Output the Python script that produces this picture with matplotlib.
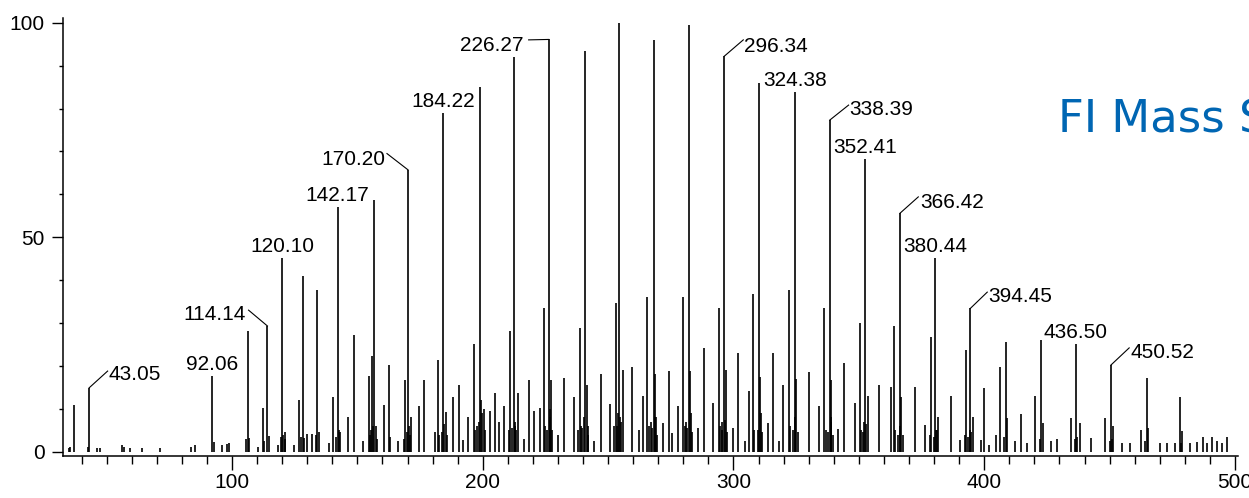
"""FI mass spectrum stick plot with annotated homologue peaks."""

import matplotlib

matplotlib.use("Agg")
import matplotlib.pyplot as plt
from matplotlib.ticker import MultipleLocator

# ---- data -------------------------------------------------------------
# annotated peaks: m/z and relative intensity (%)
label_mz = [43.05, 92.06, 114.14, 120.10, 142.17, 170.20, 184.22, 226.27,
            296.34, 324.38, 338.39, 352.41, 366.42, 380.44, 394.45, 436.50, 450.52]
label_int = [14.9, 17.6, 29.3, 45.1, 57.1, 65.7, 78.9, 96.1,
             92.2, 83.9, 77.3, 68.2, 55.6, 45.1, 33.4, 25.1, 20.2]

# other resolved peaks
peak_mz = [34.8, 35.5, 37.1, 42.6, 46.1, 47.5, 56.3, 56.8, 59.2, 64.1, 71.2, 83.7,
           85.4, 93.0, 96.0, 98.0, 99.0, 106.2, 106.7, 110.4, 112.2, 112.6, 114.9,
           118.3, 121.3, 124.6, 126.6, 128.2, 128.7, 129.9, 131.9, 134.0, 134.5,
           138.5, 140.1, 143.0, 146.1, 148.5, 152.3, 154.5, 155.8, 156.7, 157.3,
           160.5, 162.7, 163.2, 166.4, 168.8, 171.5, 174.4, 176.4, 180.8, 182.2,
           185.2, 188.1, 190.5, 192.2, 194.1, 196.4, 198.9, 199.5, 200.3, 202.7,
           204.7, 206.5, 208.6, 210.8, 212.4, 213.0, 213.9, 216.3, 218.4, 220.5,
           222.7, 224.3, 227.3, 230.2, 232.6, 236.2, 238.6, 240.9, 241.6, 244.5,
           247.1, 250.8, 253.0, 254.4, 255.0, 255.9, 259.6, 262.3, 264.1, 265.6,
           268.1, 268.8, 271.7, 274.1, 275.4, 277.8, 280.0, 282.1, 282.8, 285.9,
           288.3, 292.0, 294.3, 297.1, 300.0, 301.8, 304.5, 306.3, 307.7, 310.0,
           310.6, 313.7, 315.9, 318.1, 319.9, 322.1, 324.9, 330.3, 333.9, 336.2,
           339.0, 341.5, 343.9, 348.5, 350.5, 353.8, 358.2, 362.8, 364.1, 366.9,
           372.5, 376.2, 378.7, 381.4, 386.7, 390.4, 392.7, 395.7, 398.6, 400.1,
           402.0, 404.6, 406.1, 408.5, 409.2, 412.1, 414.6, 417.0, 420.3, 422.8,
           423.6, 426.6, 429.0, 434.6, 438.0, 442.4, 448.3, 451.2, 455.0, 458.0,
           462.6, 464.8, 465.5, 470.0, 473.0, 476.0, 478.1, 478.8, 482.0, 485.0,
           487.2, 489.0, 491.0, 493.0, 495.0, 497.0]
peak_int = [0.9, 1.0, 10.8, 1.0, 0.9, 0.9, 1.5, 1.0, 0.9, 0.9, 0.9, 1.2,
            1.5, 2.2, 1.5, 1.8, 2.0, 28.2, 3.2, 1.0, 10.3, 2.5, 3.6,
            1.5, 4.6, 1.5, 12.1, 41.0, 3.1, 4.2, 4.2, 37.7, 4.6,
            2.0, 12.8, 4.5, 8.2, 27.2, 2.5, 17.6, 22.3, 58.7, 6.0,
            10.8, 20.2, 3.5, 2.5, 16.7, 8.0, 10.6, 16.7, 4.5, 21.4,
            9.3, 12.8, 15.6, 2.8, 8.0, 25.1, 85.1, 12.0, 10.0, 9.4,
            13.6, 7.0, 10.6, 28.2, 91.9, 6.0, 13.6, 3.0, 16.7, 9.4,
            10.3, 33.4, 16.7, 4.0, 17.1, 12.8, 28.8, 93.5, 15.5, 2.5,
            18.0, 11.2, 34.6, 100.0, 7.0, 19.0, 19.7, 5.0, 12.9, 36.1,
            96.0, 18.0, 6.6, 18.8, 4.3, 10.7, 36.1, 99.4, 18.8, 5.5,
            24.1, 11.3, 33.4, 19.0, 5.5, 22.9, 2.5, 14.2, 36.8, 86.0,
            17.5, 6.6, 22.9, 2.5, 15.5, 37.8, 17.0, 18.5, 10.7, 33.4,
            16.6, 5.3, 20.7, 11.3, 29.9, 13.1, 15.5, 15.1, 29.3, 12.8,
            15.1, 6.2, 26.7, 8.0, 12.9, 2.7, 23.6, 8.0, 2.7, 14.9,
            1.5, 4.0, 19.8, 25.6, 7.8, 2.5, 8.9, 2.0, 12.9, 26.0,
            6.8, 2.5, 3.0, 7.8, 6.6, 3.2, 7.8, 6.0, 2.0, 2.0,
            5.0, 17.1, 5.5, 2.0, 2.0, 2.0, 12.8, 4.8, 2.0, 2.2,
            3.5, 2.0, 3.5, 2.5, 2.0, 3.5]

# unresolved shoulders that make the dark bases under the main peaks
shoulder_mz = [105.6, 119.6, 120.5, 121.0, 127.7, 133.6, 141.6, 142.6, 155.3, 156.2,
               169.6, 170.6, 171.0, 183.6, 184.6, 197.6, 198.4, 200.8, 211.7, 212.8,
               225.7, 226.7, 227.8, 239.7, 240.5, 242.0, 253.6, 254.8, 267.6, 268.6,
               269.5, 281.6, 283.5, 295.6, 296.8, 297.6, 309.6, 311.4, 323.8, 325.6,
               337.8, 338.8, 339.6, 351.8, 352.8, 365.8, 367.6, 379.9, 380.9, 393.7,
               394.8, 408.0, 422.3, 436.0, 436.9, 450.0, 450.9, 464.3, 478.4,
               154.9, 157.8, 168.4, 182.7, 185.8, 196.9, 199.9, 210.3, 213.4, 224.8,
               227.0, 238.0, 239.2, 241.9, 252.4, 254.0, 266.2, 267.2, 269.1, 280.6,
               281.2, 283.0, 294.8, 295.3, 308.2, 310.9, 322.6, 324.6, 336.8, 338.9,
               350.9, 352.0, 364.6, 366.5, 378.3, 381.0, 392.2, 394.2]
shoulder_int = [3.0, 3.5, 4.0, 3.0, 3.5, 4.0, 3.5, 5.0, 5.0, 6.0,
                4.5, 6.0, 4.0, 4.5, 6.5, 6.0, 7.0, 5.0, 5.5, 7.0,
                5.0, 8.0, 5.0, 5.5, 8.0, 4.0, 6.0, 8.0, 5.5, 8.0,
                4.0, 5.5, 4.5, 5.0, 7.5, 4.5, 5.0, 4.5, 5.0, 4.5,
                4.5, 7.0, 4.0, 4.5, 6.5, 4.0, 4.0, 3.5, 5.0, 3.5,
                4.5, 3.5, 3.0, 3.0, 3.5, 2.5, 3.0, 2.5, 2.0,
                4.0, 3.0, 3.0, 4.0, 4.0, 5.0, 9.0, 5.0, 5.0, 6.0,
                10.0, 5.0, 6.0, 6.0, 6.0, 9.0, 6.0, 7.0, 8.0, 6.0,
                7.0, 9.0, 6.0, 7.0, 5.0, 9.0, 6.0, 8.0, 5.0, 8.0,
                5.0, 7.0, 5.0, 6.0, 4.0, 5.0, 4.0, 5.0]

x_ticks_major = [100, 200, 300, 400, 500]
y_ticks_major = [0, 50, 100]

LABEL_FONT = "Liberation Sans"
LABEL_SIZE = 15

# text anchor (x, y in data units), alignment and leader end for labels with a leader
leader_layout = {
    43.05: (50.8, 16.7, "left", (50.4, 18.8)),
    114.14: (105.3, 30.7, "right", (106.6, 33.0)),
    170.20: (161.1, 66.8, "right", (161.8, 69.5)),
    226.27: (216.2, 93.5, "right", (218.3, 96.0)),
    296.34: (304.3, 93.2, "left", (303.9, 96.0)),
    338.39: (346.1, 78.5, "left", (345.9, 80.8)),
    366.42: (374.4, 56.7, "left", (373.7, 59.4)),
    394.45: (401.7, 35.0, "left", (401.2, 37.2)),
    450.52: (458.2, 21.8, "left", (457.8, 24.2)),
}

fig = plt.figure(figsize=(12.49, 4.98), dpi=100)
ax = fig.add_axes([63 / 1249, 1 - 456 / 498, 1175 / 1249, 438 / 498])

ax.vlines(shoulder_mz, 0, shoulder_int, color="black", linewidth=1.2)
ax.vlines(peak_mz, 0, peak_int, color="black", linewidth=1.2)
ax.vlines(label_mz, 0, label_int, color="black", linewidth=1.2)

for mz, inten in zip(label_mz, label_int):
    text = f"{mz:.2f}"
    if mz in leader_layout:
        tx, ty, ha, (lx, ly) = leader_layout[mz]
        ax.plot([mz, lx], [inten, ly], color="black", linewidth=0.8)
        ax.text(tx, ty, text, ha=ha, va="baseline", family=LABEL_FONT,
                fontsize=LABEL_SIZE, color="black")
    else:
        ax.text(mz, inten + 1.45, text, ha="center", va="baseline",
                family=LABEL_FONT, fontsize=LABEL_SIZE, color="black")

ax.set_xlim(32.6, 501.2)
ax.set_ylim(-1.0, 101.1)

ax.spines["top"].set_visible(False)
ax.spines["right"].set_visible(False)
for side in ("left", "bottom"):
    ax.spines[side].set_linewidth(1.1)

ax.set_xticks(x_ticks_major)
ax.set_yticks(y_ticks_major)
ax.xaxis.set_minor_locator(MultipleLocator(10))
ax.yaxis.set_minor_locator(MultipleLocator(10))
ax.tick_params(axis="x", which="major", length=10, width=1.0, pad=2)
ax.tick_params(axis="x", which="minor", length=5.5, width=1.0)
ax.tick_params(axis="y", which="major", length=8, width=1.0, pad=5)
ax.tick_params(axis="y", which="minor", length=3, width=1.0)
for lab in ax.get_xticklabels() + ax.get_yticklabels():
    lab.set_family(LABEL_FONT)
    lab.set_fontsize(LABEL_SIZE)

fig.text(1058 / 1249, 1 - 132 / 498, "FI Mass Spectrum", ha="left",
         va="baseline", fontsize=32.4, color="#0066B3", family="DejaVu Sans")

fig.savefig("out.png", dpi=100)
plt.close(fig)
